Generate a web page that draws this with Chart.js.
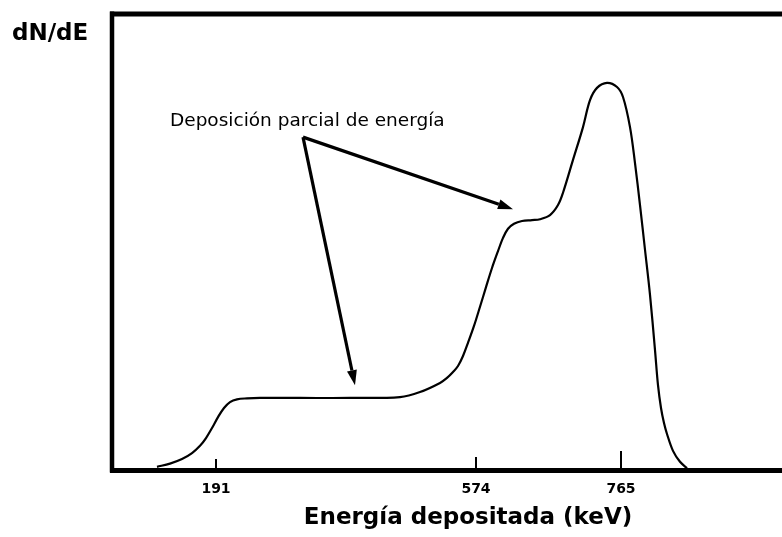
<!DOCTYPE html>
<html>
<head>
<meta charset="utf-8">
<script src="https://cdn.jsdelivr.net/npm/chart.js@4.4.1/dist/chart.umd.min.js"></script>
<style>
  html, body { margin: 0; padding: 0; background: #fff; overflow: hidden; }
  canvas { display: block; }
</style>
</head>
<body>
<!-- el marco del original sigue más allá del borde derecho: el lienzo es más ancho que la ventana -->
<canvas id="espectro" width="824" height="537"></canvas>
<script>
// Espectro de deposición de energía (esquema, eje no a escala)
// canal: posición horizontal en unidades arbitrarias; cuentas: dN/dE (100 = borde superior)
var canal   = [45, 58, 70, 80, 88, 94, 100, 106, 112, 118, 125, 135, 148, 188, 238, 288, 308, 328,
               335, 341, 346, 351, 356, 362, 368, 374, 380, 386, 391, 396, 402, 410, 420, 428, 438, 446, 451,
               461, 471, 478, 485, 495, 505, 511, 518, 523, 528, 533, 538, 543, 546, 549, 552, 555, 561, 568, 575];
var cuentas = [0.7, 1.4, 2.4, 3.7, 5.3, 7.0, 9.2, 11.6, 13.6, 14.9, 15.5, 15.7, 15.8, 15.8, 15.8, 16.0, 17.1, 19.1,
               20.2, 21.5, 22.8, 25.0, 27.9, 31.6, 35.8, 40.1, 44.3, 48.0, 50.9, 52.9, 54.0, 54.6, 54.8, 55.0, 55.9, 58.1, 60.8,
               68.0, 75.2, 81.1, 83.8, 84.9, 84.0, 81.8, 75.2, 67.3, 58.1, 48.3, 38.4, 26.3, 18.6, 13.6, 10.3, 7.9, 4.2, 1.8, 0.4];

// marcas del eje de energía
var tickPos    = [104, 364, 509];
var tickLabels = ['191', '574', '765'];

// anotación
var nota         = 'Deposición parcial de energía';
var notaPos      = [58, 75.4];
var flechaOrigen = [191, 73.0];
var flechaPuntas = [[401, 57.2], [243, 18.6]];

var puntos = canal.map(function (c, i) { return { x: c, y: cuentas[i] }; });

function flecha(ctx, x0, y0, x1, y1) {
  var ang = Math.atan2(y1 - y0, x1 - x0);
  var largo = 15, ancho = 5;
  var bx = x1 - largo * Math.cos(ang), by = y1 - largo * Math.sin(ang);
  ctx.beginPath();
  ctx.moveTo(x0, y0);
  ctx.lineTo(bx, by);
  ctx.stroke();
  ctx.beginPath();
  ctx.moveTo(x1, y1);
  ctx.lineTo(bx + ancho * Math.sin(ang), by - ancho * Math.cos(ang));
  ctx.lineTo(bx - ancho * Math.sin(ang), by + ancho * Math.cos(ang));
  ctx.closePath();
  ctx.fill();
}

var marco = {
  id: 'marco',
  afterDraw: function (chart) {
    var ctx = chart.ctx, a = chart.chartArea;
    var sx = chart.scales.x, sy = chart.scales.y;
    ctx.save();
    ctx.strokeStyle = '#000';
    ctx.fillStyle = '#000';

    // borde superior e izquierdo
    ctx.lineWidth = 5;
    ctx.beginPath();
    ctx.moveTo(a.left - 2, a.top);
    ctx.lineTo(chart.width, a.top);
    ctx.stroke();
    ctx.lineWidth = 4.5;
    ctx.beginPath();
    ctx.moveTo(a.left, a.top - 2.5);
    ctx.lineTo(a.left, a.bottom + 2.5);
    ctx.stroke();

    // marcas hacia dentro
    var largos = [11, 13, 19];
    ctx.lineWidth = 2;
    tickPos.forEach(function (v, i) {
      var x = sx.getPixelForValue(v);
      ctx.beginPath();
      ctx.moveTo(x, a.bottom);
      ctx.lineTo(x, a.bottom - largos[i]);
      ctx.stroke();
    });

    // dN/dE
    ctx.font = 'bold 23px "DejaVu Sans"';
    ctx.textBaseline = 'alphabetic';
    ctx.textAlign = 'left';
    ctx.fillText('dN/dE', a.left - 100, a.top + 26);

    // texto y flechas
    ctx.font = '18.5px "DejaVu Sans"';
    ctx.fillText(nota, sx.getPixelForValue(notaPos[0]), sy.getPixelForValue(notaPos[1]));
    ctx.lineWidth = 3.2;
    var ox = sx.getPixelForValue(flechaOrigen[0]), oy = sy.getPixelForValue(flechaOrigen[1]);
    flechaPuntas.forEach(function (p) {
      flecha(ctx, ox, oy, sx.getPixelForValue(p[0]), sy.getPixelForValue(p[1]));
    });
    ctx.restore();
  }
};

new Chart(document.getElementById('espectro'), {
  type: 'line',
  data: {
    datasets: [{
      data: puntos,
      borderColor: '#000',
      borderWidth: 2.2,
      pointRadius: 0,
      fill: false,
      tension: 0.35
    }]
  },
  options: {
    responsive: false,
    animation: false,
    layout: { padding: { left: 112, top: 14, right: 0, bottom: 0 } },
    plugins: { legend: { display: false }, tooltip: { enabled: false } },
    scales: {
      x: {
        type: 'linear',
        min: 0,
        max: 712,
        grid: { display: false, drawTicks: false },
        border: { display: true, color: '#000', width: 5 },
        afterBuildTicks: function (scale) {
          scale.ticks = tickPos.map(function (v) { return { value: v }; });
        },
        afterFit: function (scale) { scale.height = 67; },
        ticks: {
          autoSkip: false,
          maxRotation: 0,
          padding: 11,
          color: '#000',
          font: { family: 'DejaVu Sans', size: 14, weight: 'bold' },
          callback: function (v, i) { return tickLabels[i]; }
        },
        title: {
          display: true,
          text: 'Energía depositada (keV)',
          color: '#000',
          font: { family: 'DejaVu Sans', size: 23, weight: 'bold' },
          padding: { top: 0, bottom: 5 }
        }
      },
      y: {
        display: false,
        min: 0,
        max: 100
      }
    }
  },
  plugins: [marco]
});
</script>
</body>
</html>
